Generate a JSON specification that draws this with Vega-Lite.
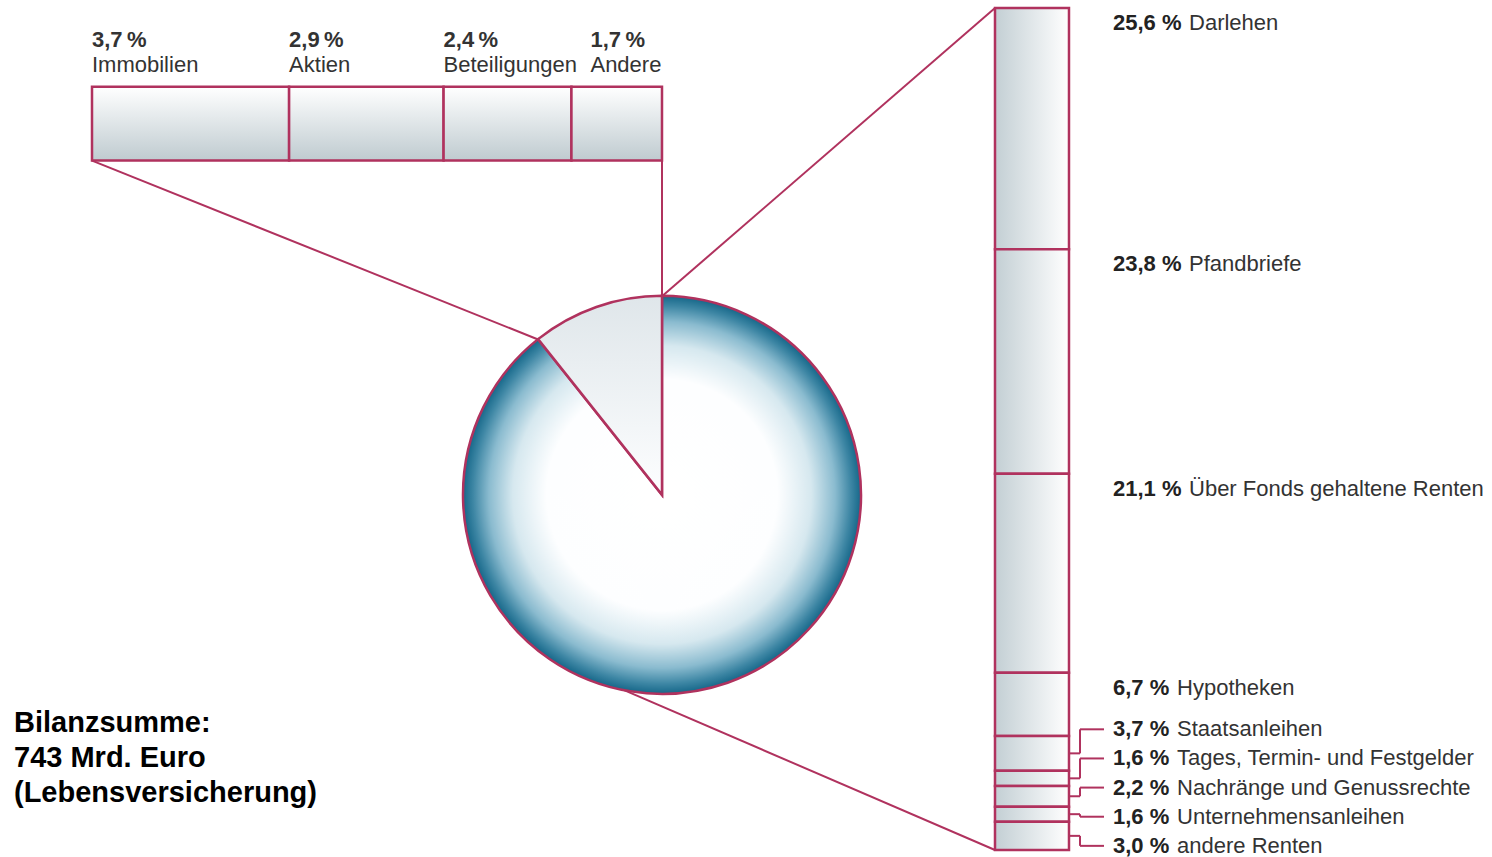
{
  "$schema": "https://vega.github.io/schema/vega-lite/v6.json",
  "width": 1492,
  "height": 857,
  "autosize": {"type": "fit", "contains": "padding"},
  "padding": 0,
  "background": "#ffffff",
  "config": {"view": {"stroke": null}, "font": "Liberation Sans"},
  "datasets": {
    "anlagen": [
      {"name": "Immobilien", "pct": 3.7, "group": "Sonstige Kapitalanlagen"},
      {"name": "Aktien", "pct": 2.9, "group": "Sonstige Kapitalanlagen"},
      {"name": "Beteiligungen", "pct": 2.4, "group": "Sonstige Kapitalanlagen"},
      {"name": "Andere", "pct": 1.7, "group": "Sonstige Kapitalanlagen"},
      {"name": "Darlehen", "pct": 25.6, "group": "Renten und Darlehen"},
      {"name": "Pfandbriefe", "pct": 23.8, "group": "Renten und Darlehen"},
      {"name": "Über Fonds gehaltene Renten", "pct": 21.1, "group": "Renten und Darlehen"},
      {"name": "Hypotheken", "pct": 6.7, "group": "Renten und Darlehen"},
      {"name": "Staatsanleihen", "pct": 3.7, "group": "Renten und Darlehen"},
      {"name": "Tages, Termin- und Festgelder", "pct": 1.6, "group": "Renten und Darlehen"},
      {"name": "Nachränge und Genussrechte", "pct": 2.2, "group": "Renten und Darlehen"},
      {"name": "Unternehmensanleihen", "pct": 1.6, "group": "Renten und Darlehen"},
      {"name": "andere Renten", "pct": 3.0, "group": "Renten und Darlehen"}
    ],
    "bilanz": [
      {"label": "Bilanzsumme:", "value": 743, "unit": "Mrd. Euro", "segment": "Lebensversicherung"}
    ]
  },
  "data": {"name": "anlagen"},
  "layer": [
    {
      "transform": [{"aggregate": [{"op": "count", "as": "n"}]}],
      "mark": {"type": "rule", "color": "#b0325e", "strokeWidth": 2},
      "encoding": {
        "x": {"datum": 0, "type": "quantitative", "scale": {"domain": [-1.72702, 26.28072], "nice": false, "zero": false}, "axis": null},
        "y": {"datum": 16.188, "type": "quantitative", "scale": {"domain": [-0.84645, 89.82955], "nice": false, "zero": false, "reverse": true}, "axis": null},
        "x2": {"datum": 8.374},
        "y2": {"datum": 35.159}
      }
    },
    {
      "transform": [{"aggregate": [{"op": "count", "as": "n"}]}],
      "mark": {"type": "rule", "color": "#b0325e", "strokeWidth": 2},
      "encoding": {
        "x": {"datum": 10.7, "type": "quantitative", "scale": {"domain": [-1.72702, 26.28072], "nice": false, "zero": false}, "axis": null},
        "y": {"datum": 16.188, "type": "quantitative", "scale": {"domain": [-0.84645, 89.82955], "nice": false, "zero": false, "reverse": true}, "axis": null},
        "y2": {"datum": 30.578}
      }
    },
    {
      "transform": [{"aggregate": [{"op": "count", "as": "n"}]}],
      "mark": {"type": "rule", "color": "#b0325e", "strokeWidth": 2},
      "encoding": {
        "x": {"datum": 16.951, "type": "quantitative", "scale": {"domain": [-1.72702, 26.28072], "nice": false, "zero": false}, "axis": null},
        "y": {"datum": 0, "type": "quantitative", "scale": {"domain": [-0.84645, 89.82955], "nice": false, "zero": false, "reverse": true}, "axis": null},
        "x2": {"datum": 10.7},
        "y2": {"datum": 30.578}
      }
    },
    {
      "transform": [{"aggregate": [{"op": "count", "as": "n"}]}],
      "mark": {"type": "rule", "color": "#b0325e", "strokeWidth": 2},
      "encoding": {
        "x": {"datum": 16.951, "type": "quantitative", "scale": {"domain": [-1.72702, 26.28072], "nice": false, "zero": false}, "axis": null},
        "y": {"datum": 89.3, "type": "quantitative", "scale": {"domain": [-0.84645, 89.82955], "nice": false, "zero": false, "reverse": true}, "axis": null},
        "x2": {"datum": 9.912},
        "y2": {"datum": 72.16}
      }
    },
    {
      "transform": [
        {"aggregate": [{"op": "sum", "field": "pct", "as": "share"}], "groupby": ["group"]},
        {"stack": "share", "groupby": [], "sort": [{"field": "group", "order": "ascending"}], "as": ["t0", "t1"]},
        {"filter": "datum.group === 'Renten und Darlehen'"}
      ],
      "mark": {
        "type": "arc",
        "outerRadius": 199,
        "fill": {
          "gradient": "radial",
          "x1": 0.5, "y1": 0.5, "r1": 0,
          "x2": 0.5, "y2": 0.5, "r2": 0.5,
          "stops": [
            {"offset": 0, "color": "#ffffff"},
            {"offset": 0.58, "color": "#fdfeff"},
            {"offset": 0.75, "color": "#d6e8ef"},
            {"offset": 0.87, "color": "#8abbcf"},
            {"offset": 0.95, "color": "#3d86a4"},
            {"offset": 1, "color": "#166789"}
          ]
        },
        "stroke": "#b0325e",
        "strokeWidth": 2.5
      },
      "encoding": {
        "x": {"datum": 10.7, "type": "quantitative", "scale": {"domain": [-1.72702, 26.28072], "nice": false, "zero": false}, "axis": null},
        "y": {"datum": 51.633, "type": "quantitative", "scale": {"domain": [-0.84645, 89.82955], "nice": false, "zero": false, "reverse": true}, "axis": null},
        "theta": {"field": "t0", "type": "quantitative", "scale": {"domain": [0, 100], "zero": false, "nice": false}, "stack": null},
        "theta2": {"field": "t1"}
      }
    },
    {
      "transform": [
        {"aggregate": [{"op": "sum", "field": "pct", "as": "share"}], "groupby": ["group"]},
        {"stack": "share", "groupby": [], "sort": [{"field": "group", "order": "ascending"}], "as": ["t0", "t1"]},
        {"filter": "datum.group === 'Sonstige Kapitalanlagen'"}
      ],
      "mark": {
        "type": "arc",
        "outerRadius": 199,
        "fill": {
          "gradient": "linear",
          "x1": 0, "y1": 0, "x2": 0, "y2": 1,
          "stops": [
            {"offset": 0, "color": "#dfe6ea"},
            {"offset": 1, "color": "#fdfeff"}
          ]
        },
        "stroke": "#b0325e",
        "strokeWidth": 2.5
      },
      "encoding": {
        "x": {"datum": 10.7, "type": "quantitative", "scale": {"domain": [-1.72702, 26.28072], "nice": false, "zero": false}, "axis": null},
        "y": {"datum": 51.633, "type": "quantitative", "scale": {"domain": [-0.84645, 89.82955], "nice": false, "zero": false, "reverse": true}, "axis": null},
        "theta": {"field": "t0", "type": "quantitative", "scale": {"domain": [0, 100], "zero": false, "nice": false}, "stack": null},
        "theta2": {"field": "t1"}
      }
    },
    {
      "transform": [
        {"filter": "datum.group === 'Sonstige Kapitalanlagen'"},
        {"window": [{"op": "row_number", "as": "rank"}]},
        {"stack": "pct", "groupby": [], "sort": [{"field": "rank", "order": "ascending"}], "as": ["x0", "x1"]}
      ],
      "mark": {
        "type": "rect",
        "fill": {
          "gradient": "linear",
          "x1": 0, "y1": 0, "x2": 0, "y2": 1,
          "stops": [
            {"offset": 0, "color": "#ffffff"},
            {"offset": 1, "color": "#bfcbd0"}
          ]
        },
        "stroke": "#b0325e",
        "strokeWidth": 2.5
      },
      "encoding": {
        "x": {"field": "x0", "type": "quantitative", "scale": {"domain": [-1.72702, 26.28072], "nice": false, "zero": false}, "axis": null},
        "x2": {"field": "x1"},
        "y": {"datum": 8.3587, "type": "quantitative", "scale": {"domain": [-0.84645, 89.82955], "nice": false, "zero": false, "reverse": true}, "axis": null},
        "y2": {"datum": 16.188}
      }
    },
    {
      "transform": [
        {"filter": "datum.group === 'Renten und Darlehen'"},
        {"window": [{"op": "row_number", "as": "rank"}]},
        {"stack": "pct", "groupby": [], "sort": [{"field": "rank", "order": "ascending"}], "as": ["y0", "y1"]}
      ],
      "mark": {
        "type": "rect",
        "fill": {
          "gradient": "linear",
          "x1": 0, "y1": 0, "x2": 1, "y2": 0,
          "stops": [
            {"offset": 0, "color": "#c3cfd4"},
            {"offset": 1, "color": "#ffffff"}
          ]
        },
        "stroke": "#b0325e",
        "strokeWidth": 2.5
      },
      "encoding": {
        "x": {"datum": 16.951, "type": "quantitative", "scale": {"domain": [-1.72702, 26.28072], "nice": false, "zero": false}, "axis": null},
        "x2": {"datum": 18.34},
        "y": {"field": "y0", "type": "quantitative", "scale": {"domain": [-0.84645, 89.82955], "nice": false, "zero": false, "reverse": true}, "axis": null},
        "y2": {"field": "y1"}
      }
    },
    {
      "transform": [
        {"filter": "datum.group === 'Renten und Darlehen'"},
        {"window": [{"op": "row_number", "as": "rank"}]},
        {"stack": "pct", "groupby": [], "sort": [{"field": "rank", "order": "ascending"}], "as": ["y0", "y1"]},
        {"calculate": "(datum.y0 + datum.y1) / 2", "as": "ymid"},
        {"filter": "datum.pct < 5"}
      ],
      "mark": {"type": "rule", "color": "#b0325e", "strokeWidth": 2},
      "encoding": {
        "x": {"datum": 18.34, "type": "quantitative", "scale": {"domain": [-1.72702, 26.28072], "nice": false, "zero": false}, "axis": null},
        "x2": {"datum": 18.547},
        "y": {"field": "ymid", "type": "quantitative", "scale": {"domain": [-0.84645, 89.82955], "nice": false, "zero": false, "reverse": true}, "axis": null}
      }
    },
    {
      "transform": [
        {"filter": "datum.group === 'Renten und Darlehen'"},
        {"window": [{"op": "row_number", "as": "rank"}]},
        {"stack": "pct", "groupby": [], "sort": [{"field": "rank", "order": "ascending"}], "as": ["y0", "y1"]},
        {"calculate": "(datum.y0 + datum.y1) / 2", "as": "ymid"},
        {"calculate": "datum.pct >= 5 ? datum.y0 + 1.5 : 76.5 + 3.09 * (datum.rank - 5)", "as": "ly"},
        {"filter": "datum.pct < 5"}
      ],
      "mark": {"type": "rule", "color": "#b0325e", "strokeWidth": 2},
      "encoding": {
        "x": {"datum": 18.547, "type": "quantitative", "scale": {"domain": [-1.72702, 26.28072], "nice": false, "zero": false}, "axis": null},
        "y": {"field": "ymid", "type": "quantitative", "scale": {"domain": [-0.84645, 89.82955], "nice": false, "zero": false, "reverse": true}, "axis": null},
        "y2": {"field": "ly"}
      }
    },
    {
      "transform": [
        {"filter": "datum.group === 'Renten und Darlehen'"},
        {"window": [{"op": "row_number", "as": "rank"}]},
        {"stack": "pct", "groupby": [], "sort": [{"field": "rank", "order": "ascending"}], "as": ["y0", "y1"]},
        {"calculate": "datum.pct >= 5 ? datum.y0 + 1.5 : 76.5 + 3.09 * (datum.rank - 5)", "as": "ly"},
        {"filter": "datum.pct < 5"}
      ],
      "mark": {"type": "rule", "color": "#b0325e", "strokeWidth": 2},
      "encoding": {
        "x": {"datum": 18.547, "type": "quantitative", "scale": {"domain": [-1.72702, 26.28072], "nice": false, "zero": false}, "axis": null},
        "x2": {"datum": 18.997},
        "y": {"field": "ly", "type": "quantitative", "scale": {"domain": [-0.84645, 89.82955], "nice": false, "zero": false, "reverse": true}, "axis": null}
      }
    },
    {
      "transform": [
        {"filter": "datum.group === 'Sonstige Kapitalanlagen'"},
        {"window": [{"op": "row_number", "as": "rank"}]},
        {"stack": "pct", "groupby": [], "sort": [{"field": "rank", "order": "ascending"}], "as": ["x0", "x1"]},
        {"calculate": "datum.x0 + (datum.name === 'Andere' ? 0.357 : 0)", "as": "lx"},
        {"calculate": "replace(format(datum.pct, '.1f'), '.', ',') + '\u2009%'", "as": "plabel"}
      ],
      "mark": {"type": "text", "align": "left", "baseline": "alphabetic", "font": "Liberation Sans", "fontSize": 22, "fontWeight": "bold", "color": "#333333"},
      "encoding": {
        "x": {"field": "lx", "type": "quantitative", "scale": {"domain": [-1.72702, 26.28072], "nice": false, "zero": false}, "axis": null},
        "y": {"datum": 4.126, "type": "quantitative", "scale": {"domain": [-0.84645, 89.82955], "nice": false, "zero": false, "reverse": true}, "axis": null},
        "text": {"field": "plabel", "type": "nominal"}
      }
    },
    {
      "transform": [
        {"filter": "datum.group === 'Sonstige Kapitalanlagen'"},
        {"window": [{"op": "row_number", "as": "rank"}]},
        {"stack": "pct", "groupby": [], "sort": [{"field": "rank", "order": "ascending"}], "as": ["x0", "x1"]},
        {"calculate": "datum.x0 + (datum.name === 'Andere' ? 0.357 : 0)", "as": "lx"}
      ],
      "mark": {"type": "text", "align": "left", "baseline": "alphabetic", "font": "Liberation Sans", "fontSize": 22, "color": "#333333"},
      "encoding": {
        "x": {"field": "lx", "type": "quantitative", "scale": {"domain": [-1.72702, 26.28072], "nice": false, "zero": false}, "axis": null},
        "y": {"datum": 6.772, "type": "quantitative", "scale": {"domain": [-0.84645, 89.82955], "nice": false, "zero": false, "reverse": true}, "axis": null},
        "text": {"field": "name", "type": "nominal"}
      }
    },
    {
      "transform": [
        {"filter": "datum.group === 'Renten und Darlehen'"},
        {"window": [{"op": "row_number", "as": "rank"}]},
        {"stack": "pct", "groupby": [], "sort": [{"field": "rank", "order": "ascending"}], "as": ["y0", "y1"]},
        {"calculate": "datum.pct >= 5 ? datum.y0 + 1.6 : 76.5 + 3.09 * (datum.rank - 5)", "as": "ly"},
        {"calculate": "replace(format(datum.pct, '.1f'), '.', ',') + ' %'", "as": "plabel"}
      ],
      "mark": {"type": "text", "align": "left", "baseline": "middle", "font": "Liberation Sans", "fontSize": 22, "fontWeight": "bold", "color": "#222222"},
      "encoding": {
        "x": {"datum": 19.166, "type": "quantitative", "scale": {"domain": [-1.72702, 26.28072], "nice": false, "zero": false}, "axis": null},
        "y": {"field": "ly", "type": "quantitative", "scale": {"domain": [-0.84645, 89.82955], "nice": false, "zero": false, "reverse": true}, "axis": null},
        "text": {"field": "plabel", "type": "nominal"}
      }
    },
    {
      "transform": [
        {"filter": "datum.group === 'Renten und Darlehen'"},
        {"window": [{"op": "row_number", "as": "rank"}]},
        {"stack": "pct", "groupby": [], "sort": [{"field": "rank", "order": "ascending"}], "as": ["y0", "y1"]},
        {"calculate": "datum.pct >= 5 ? datum.y0 + 1.6 : 76.5 + 3.09 * (datum.rank - 5)", "as": "ly"},
        {"calculate": "datum.pct >= 10 ? 20.593 : 20.368", "as": "nx"}
      ],
      "mark": {"type": "text", "align": "left", "baseline": "middle", "font": "Liberation Sans", "fontSize": 22, "color": "#333333"},
      "encoding": {
        "x": {"field": "nx", "type": "quantitative", "scale": {"domain": [-1.72702, 26.28072], "nice": false, "zero": false}, "axis": null},
        "y": {"field": "ly", "type": "quantitative", "scale": {"domain": [-0.84645, 89.82955], "nice": false, "zero": false, "reverse": true}, "axis": null},
        "text": {"field": "name", "type": "nominal"}
      }
    },
    {
      "data": {"name": "bilanz"},
      "transform": [
        {"calculate": "datum.label + '\\n' + datum.value + ' ' + datum.unit + '\\n(' + datum.segment + ')'", "as": "txt"}
      ],
      "mark": {"type": "text", "align": "left", "baseline": "alphabetic", "font": "Liberation Sans", "fontSize": 29, "fontWeight": "bold", "color": "#000000", "lineBreak": "\n", "lineHeight": 35},
      "encoding": {
        "x": {"datum": -1.4642, "type": "quantitative", "scale": {"domain": [-1.72702, 26.28072], "nice": false, "zero": false}, "axis": null},
        "y": {"datum": 76.815, "type": "quantitative", "scale": {"domain": [-0.84645, 89.82955], "nice": false, "zero": false, "reverse": true}, "axis": null},
        "text": {"field": "txt", "type": "nominal"}
      }
    }
  ]
}
